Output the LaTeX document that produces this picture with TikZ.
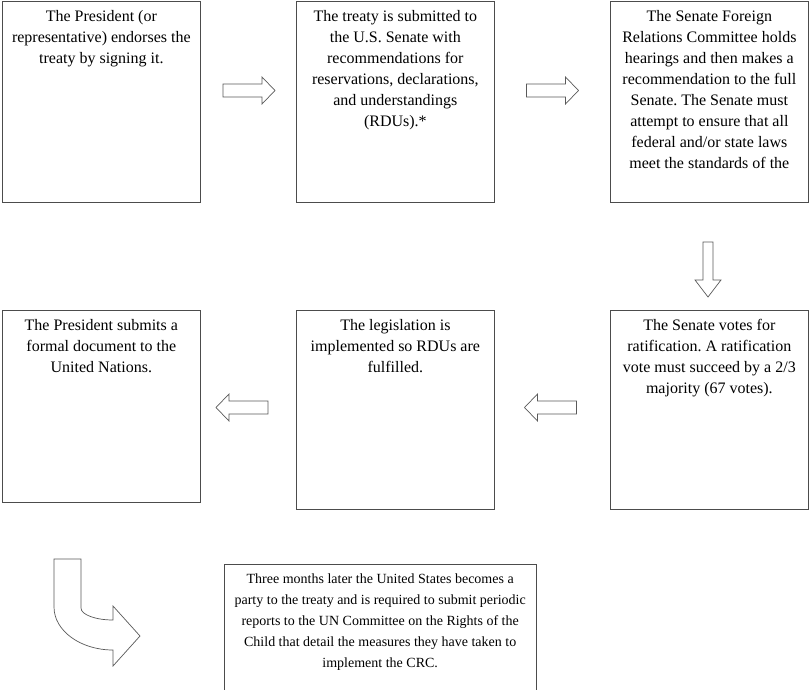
\documentclass[tikz,border=0pt]{standalone}
\usepackage{fontspec}
\setmainfont{Liberation Serif}
\frenchspacing
\usetikzlibrary{positioning}
\tikzset{
  stepbox/.style={draw=black!70,line width=.7pt,minimum width=198pt,
    minimum height=#1,anchor=north west,inner sep=0pt},
  boxtext/.style={align=center,inner sep=0pt,
    font=\fontsize{16}{21}\selectfont},
  arrowline/.style={draw=black!65,line width=.7pt,line join=miter},
  blockarrow/.pic={
    \draw[arrowline] (-26,-6.5) -- (13,-6.5) -- (13,-13.5) -- (26,0)
      -- (13,13.5) -- (13,6.5) -- (-26,6.5) -- cycle;}
}
\begin{document}
\begin{tikzpicture}[x=1pt,y=-1pt]
  \useasboundingbox (0,0) rectangle (809,689);
  \node[stepbox=201pt] (endorse) at (2,1) {};
  \node[stepbox=201pt] (submit) at (296,1) {};
  \node[stepbox=201pt] (hearing) at (610,1) {};
  \node[stepbox=192pt] (undoc) at (2,310) {};
  \node[stepbox=199pt] (implement) at (296,310) {};
  \node[stepbox=199pt] (vote) at (610,310) {};
  \node[minimum width=312pt,minimum height=200pt,anchor=north west,
    inner sep=0pt] (party) at (224,564) {};
  \draw[black!70,line width=.7pt] (party.south west) -- (party.north west)
    -- (party.north east) -- (party.south east);
  \node[boxtext,below=9.5pt of endorse.north] (endorsetext)
    {The President (or\\representative) endorses the\\treaty by signing it.};
  \node[boxtext,below=9.5pt of submit.north] (submittext)
    {The treaty is submitted to\\the U.S. Senate with\\recommendations for\\
     reservations, declarations,\\and understandings\\(RDUs).*};
  \node[boxtext,below=9.5pt of hearing.north] (hearingtext)
    {The Senate Foreign\\Relations Committee holds\\hearings and then makes a\\
     recommendation to the full\\Senate. The Senate must\\attempt to ensure that all\\
     federal and/or state laws\\meet the standards of the};
  \node[boxtext,below=9.5pt of undoc.north] (undoctext)
    {The President submits a\\formal document to the\\United Nations.};
  \node[boxtext,below=9.5pt of implement.north] (implementtext)
    {The legislation is\\implemented so RDUs are\\fulfilled.};
  \node[boxtext,below=9.5pt of vote.north] (votetext)
    {The Senate votes for\\ratification. A ratification\\vote must succeed by a 2/3\\
     majority (67 votes).};
  \node[boxtext,font=\fontsize{14}{21}\selectfont,below=9.5pt of party.north] (partytext)
    {Three months later the United States becomes a\\
     party to the treaty and is required to submit periodic\\
     reports to the UN Committee on the Rights of the\\
     Child that detail the measures they have taken to\\
     implement the CRC.};
  \pic at (249,90.5) {blockarrow};
  \pic at (552.5,90.5) {blockarrow};
  \pic[rotate=180] at (242,407.5) {blockarrow};
  \pic[rotate=180] at (550.5,407.5) {blockarrow};
  \draw[arrowline] (703,242) -- (713,242) -- (713,280) -- (721,280) -- (708,297)
    -- (695,280) -- (703,280) -- cycle;
  \draw[arrowline] (54,559) -- (81,559) -- (81,608)
    .. controls (81,614.6) and (95.3,620) .. (113,620) -- (113,606) -- (140,636)
    -- (113,666) -- (113,650) .. controls (80.4,650) and (54,630.7) .. (54,607)
    -- cycle;
\end{tikzpicture}
\end{document}
